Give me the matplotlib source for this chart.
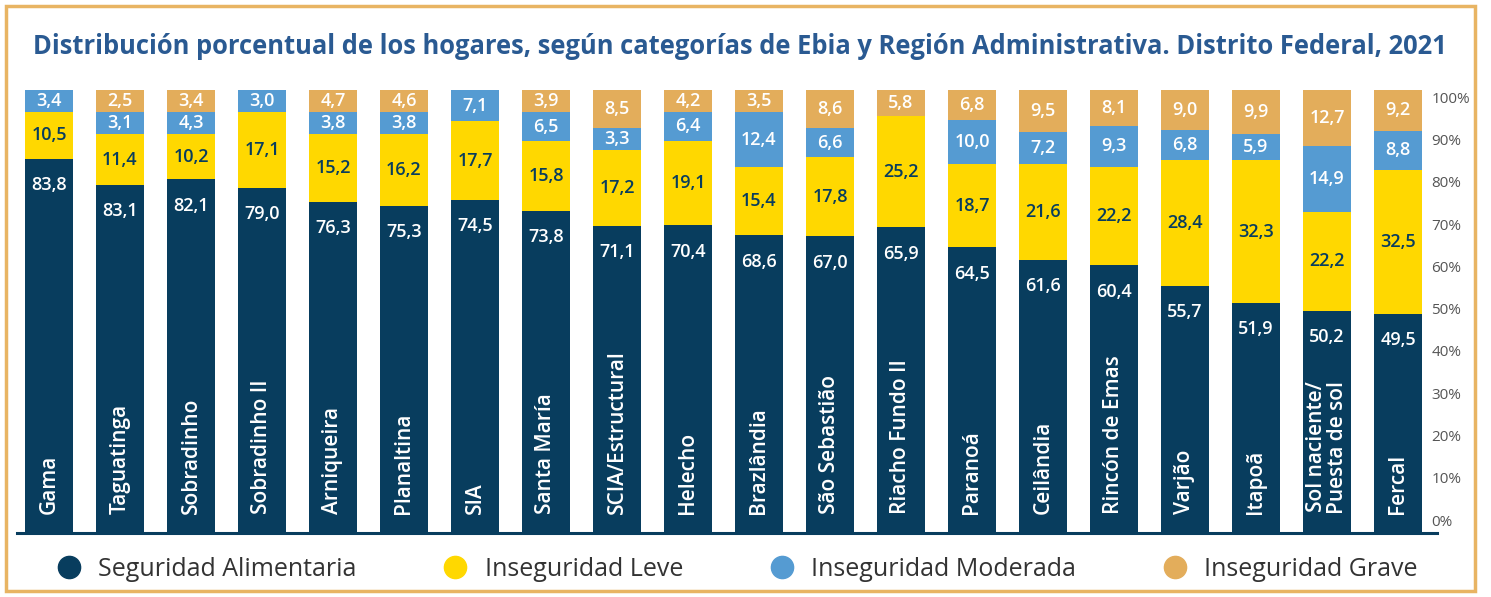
import matplotlib
matplotlib.use("Agg")
import matplotlib.pyplot as plt
import matplotlib.patches as mpatches
from matplotlib.lines import Line2D
import numpy as np

regiones = ["Gama", "Taguatinga", "Sobradinho", "Sobradinho II", "Arniqueira",
            "Planaltina", "SIA", "Santa María", "SCIA/Estructural", "Helecho",
            "Brazlândia", "São Sebastião", "Riacho Fundo II", "Paranoá",
            "Ceilândia", "Rincón de Emas", "Varjão", "Itapoã",
            "Sol naciente/\nPuesta de sol", "Fercal"]
seguridad = [83.8, 83.1, 82.1, 79.0, 76.3, 75.3, 74.5, 73.8, 71.1, 70.4,
             68.6, 67.0, 65.9, 64.5, 61.6, 60.4, 55.7, 51.9, 50.2, 49.5]
leve = [10.5, 11.4, 10.2, 17.1, 15.2, 16.2, 17.7, 15.8, 17.2, 19.1,
        15.4, 17.8, 25.2, 18.7, 21.6, 22.2, 28.4, 32.3, 22.2, 32.5]
moderada = [3.4, 3.1, 4.3, 3.0, 3.8, 3.8, 7.1, 6.5, 3.3, 6.4,
            12.4, 6.6, 0.0, 10.0, 7.2, 9.3, 6.8, 5.9, 14.9, 8.8]
grave = [0.0, 2.5, 3.4, 0.0, 4.7, 4.6, 0.0, 3.9, 8.5, 4.2,
         3.5, 8.6, 5.8, 6.8, 9.5, 8.1, 9.0, 9.9, 12.7, 9.2]

series = ["Seguridad Alimentaria", "Inseguridad Leve",
          "Inseguridad Moderada", "Inseguridad Grave"]
colores = ["#083D5E", "#FFD800", "#559BD2", "#E3AD5B"]
txt_colores = ["white", "#083D5E", "white", "white"]

FONT = ["Open Sans", "DejaVu Sans"]
NAVY = "#083D5E"
MIN_VIS = 5.0   # small segments are drawn at least this tall so their labels fit

W, H = 1491, 597
fig = plt.figure(figsize=(W / 100, H / 100), dpi=100)

# golden frame
fig.add_artist(mpatches.Rectangle((6 / W, 6 / H), 1469 / W, 585 / H,
                                  transform=fig.transFigure, fill=False,
                                  edgecolor="#E8B463", linewidth=2.5))

fig.text(740 / W, 1 - 46 / H,
         "Distribución porcentual de los hogares, según categorías de Ebia y "
         "Región Administrativa. Distrito Federal, 2021",
         ha="center", va="center", fontsize=18.4, fontweight="bold",
         color="#2A5A92", family=FONT)

ax = fig.add_axes([17 / W, 64 / H, 1420 / W, 443 / H])

datos = np.array([seguridad, leve, moderada, grave])
# 100 % stacked; upper segments get a minimum height, the base absorbs the rest
vis = datos / datos.sum(axis=0) * 100
vis[1:] = np.where(datos[1:] > 0, np.maximum(datos[1:], MIN_VIS), 0)
vis[0] = 100 - vis[1:].sum(axis=0)

x = np.arange(len(regiones))
base = np.zeros(len(regiones))
for k in range(4):
    ax.bar(x, vis[k], bottom=base, width=0.675, color=colores[k],
           label=series[k], zorder=2)
    for i in range(len(regiones)):
        v = datos[k, i]
        if v <= 0:
            continue
        etiqueta = f"{v:.1f}".replace(".", ",")
        if k == 0:
            ax.annotate(etiqueta, (x[i], base[i] + vis[k, i]),
                        xytext=(0, -19), textcoords="offset points",
                        ha="center", va="center", fontsize=13,
                        fontweight="semibold", color=txt_colores[k], family=FONT)
        else:
            ax.text(x[i], base[i] + vis[k, i] / 2, etiqueta, ha="center",
                    va="center", fontsize=13, fontweight="semibold",
                    color=txt_colores[k], family=FONT)
    base += vis[k]

for i, nombre in enumerate(regiones):
    ax.annotate(nombre, (x[i], 0), xytext=(0, 14), textcoords="offset points",
                rotation=90, ha="center", va="bottom", multialignment="center",
                fontsize=15, fontweight="semibold", color="white",
                family=FONT, linespacing=0.95)

ax.set_xlim(-0.45, 19.55)
ax.set_ylim(0, 100)
ax.set_xticks([])
ax.set_yticks([])
for s in ["top", "left", "right"]:
    ax.spines[s].set_visible(False)
ax.spines["bottom"].set_color(NAVY)
ax.spines["bottom"].set_linewidth(2.2)

# percentage scale on the right
ax2 = ax.twinx()
ax2.set_ylim(-3.04, 101.7)
ax2.set_yticks(np.arange(0, 101, 10))
ax2.set_yticklabels([f"{t}%" for t in range(0, 101, 10)])
ax2.tick_params(axis="y", length=0, pad=-4, labelsize=11, labelcolor="#555555")
for lab in ax2.get_yticklabels():
    lab.set_family(FONT)
for s in ax2.spines.values():
    s.set_visible(False)

handles = [Line2D([], [], marker="o", linestyle="", markersize=16,
                  markerfacecolor=c, markeredgecolor=c) for c in colores]
fig.legend(handles, series, loc="center", bbox_to_anchor=(737 / W, 1 - 569 / H),
           ncol=4, frameon=False, prop={"family": FONT, "size": 18},
           labelcolor="#333333", columnspacing=3.45, handletextpad=0.68,
           handlelength=1.0)

fig.savefig("out.png", dpi=100)
